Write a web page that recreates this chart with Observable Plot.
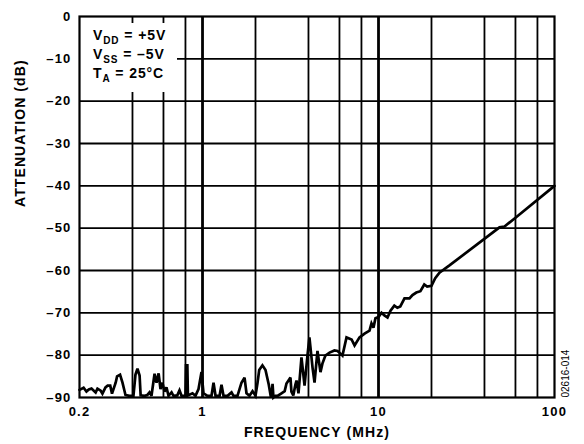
<!DOCTYPE html>
<html><head><meta charset="utf-8">
<script src="https://cdn.jsdelivr.net/npm/d3@7"></script>
<script src="https://cdn.jsdelivr.net/npm/@observablehq/plot@0.6"></script>
<style>
body{margin:0;background:#fff;}
#chart{width:584px;height:444px;position:relative;}
g[aria-label="x-axis tick label"] text, g[aria-label="y-axis tick label"] text{letter-spacing:1.2px;}
</style></head><body><div id="chart"></div>
<script>
const freqMHz = [0.2,0.211,0.219,0.226,0.234,0.247,0.253,0.264,0.270,0.281,0.289,0.299,0.306,0.321,0.327,0.340,0.351,0.365,0.385,0.405,0.416,0.427,0.439,0.445,0.468,0.486,0.500,0.513,0.534,0.548,0.563,0.577,0.592,0.608,0.624,0.641,0.667,0.684,0.719,0.740,0.760,0.800,0.806,0.820,0.826,0.877,0.912,0.949,0.987,1.013,1.067,1.125,1.155,1.186,1.250,1.282,1.316,1.387,1.462,1.500,1.580,1.665,1.733,1.778,1.849,1.924,2.000,2.054,2.100,2.190,2.280,2.380,2.440,2.470,2.500,2.530,2.600,2.668,2.81,2.93,3.00,3.08,3.16,3.20,3.28,3.37,3.42,3.51,3.65,3.80,3.95,4.05,4.22,4.33,4.50,4.68,4.80,4.99,5.27,5.62,5.85,6.00,6.24,6.58,7.03,7.31,7.80,8.33,8.89,9.12,9.36,9.61,10.0,10.4,10.8,11.25,11.7,12.3,12.8,13.3,14.05,15.0,15.6,16.4,17.3,18.2,18.9,20.0,21.0,22.2,25.3,48.7,52.0,59.3,100];
const attenDB = [-88.2,-87.7,-88.6,-88.1,-87.9,-88.8,-87.9,-88.4,-89.1,-87.6,-87.2,-87.2,-89.1,-86.5,-85.0,-84.6,-86.5,-89.4,-89.6,-89.6,-84.6,-83.2,-84.8,-89.5,-89.6,-89.4,-88.8,-89.6,-84.4,-86.5,-84.3,-88.0,-86.5,-88.6,-87.6,-89.6,-88.8,-89.6,-89.5,-88.3,-89.6,-89.6,-82.4,-82.4,-89.5,-89.0,-89.6,-88.0,-84.0,-89.0,-89.6,-89.6,-86.5,-89.6,-89.6,-87.0,-89.6,-89.6,-88.8,-89.6,-89.6,-86.5,-85.3,-89.0,-89.6,-88.5,-89.6,-86.5,-83.5,-82.4,-83.5,-87.0,-89.6,-89.6,-86.8,-90.0,-89.6,-89.6,-89.0,-88.5,-86.7,-86.0,-85.3,-88.6,-89.5,-87.0,-86.0,-89.0,-80.5,-87.2,-80.0,-75.8,-83.0,-86.5,-79.0,-84.0,-82.0,-80.1,-79.4,-78.9,-79.0,-79.4,-80.1,-75.8,-76.3,-77.7,-75.8,-74.9,-74.2,-72.5,-73.5,-71.3,-71.0,-70.0,-70.6,-71.1,-69.5,-68.3,-68.8,-68.5,-66.6,-66.6,-65.8,-65.2,-64.9,-63.3,-63.8,-63.6,-61.8,-60.5,-58.8,-49.8,-49.6,-47.7,-40.0];
const xTickValues = [0.2, 1, 10, 100];
const xGridMinor = [0.4, 0.6, 0.8, 2, 4, 6, 8, 20, 40, 60, 80];
const xGridMajor = [1, 10];
const yTickValues = [0, -10, -20, -30, -40, -50, -60, -70, -80, -90];
const yGrid = [-10, -20, -30, -40, -50, -60, -70, -80];
const xTitle = "FREQUENCY (MHz)";
const yTitle = "ATTENUATION (dB)";
const legendLines = [["V", "DD", " = +5V"], ["V", "SS", " = –5V"], ["T", "A", " = 25°C"]];
const figureId = "02616-014";

const data = freqMHz.map((f, i) => ({f, a: attenDB[i]}));
const font = "'Liberation Sans', Arial, Helvetica, sans-serif";

const legendMark = () => {
  const g = d3.create("svg:g");
  const x0 = 80, y0 = 23;
  g.append("rect").attr("x", x0).attr("y", y0).attr("width", 97).attr("height", 69).attr("fill", "white");
  legendLines.forEach((l, i) => {
    const t = g.append("text").attr("x", x0 + 13).attr("y", y0 + 17 + i * 19)
      .attr("text-anchor", "start")
      .attr("font-family", font).attr("font-weight", "bold").attr("font-size", 14)
      .attr("letter-spacing", "0.9px").attr("fill", "black");
    t.append("tspan").text(l[0]);
    t.append("tspan").attr("font-size", 10).attr("dy", 4).text(l[1]);
    t.append("tspan").attr("dy", -4).text(l[2]);
  });
  return g.node();
};

const chart = Plot.plot({
  width: 584, height: 444,
  marginLeft: 79, marginRight: 30, marginTop: 16, marginBottom: 47,
  x: {type: "log", domain: [0.2, 100]},
  y: {domain: [-90, 0]},
  style: {fontFamily: font, fontWeight: "bold", fontSize: "13px", color: "black", background: "white"},
  marks: [
    Plot.ruleY(yGrid, {stroke: "black", strokeWidth: 1.8}),
    Plot.ruleX(xGridMinor, {stroke: "black", strokeWidth: 1.8}),
    Plot.ruleX(xGridMajor, {stroke: "black", strokeWidth: 2.8}),
    legendMark,
    Plot.frame({stroke: "black", strokeWidth: 2.2}),
    Plot.line(data, {x: "f", y: "a", stroke: "black", strokeWidth: 2.7, strokeLinejoin: "miter", strokeMiterlimit: 3}),
    Plot.axisX(xTickValues, {tickSize: 0, tickPadding: 9, tickFormat: d => String(d), label: null, fontSize: 13}),
    Plot.axisY(yTickValues, {tickSize: 0, tickPadding: 8, tickFormat: d => d === 0 ? "0" : "–" + Math.abs(d), label: null, fontSize: 13}),
    Plot.text([xTitle], {text: d => d, frameAnchor: "bottom", lineAnchor: "top", dy: 30, fontSize: 14, fontWeight: "bold"}),
    Plot.text([yTitle], {text: d => d, frameAnchor: "left", rotate: -90, dx: -59, fontSize: 14, fontWeight: "bold"}),
    Plot.text([figureId], {text: d => d, frameAnchor: "bottom-right", rotate: -90, textAnchor: "start", dx: 14, dy: 0, fontSize: 10, fontWeight: "normal"})
  ]
});
d3.select(chart).selectAll("text").filter(function(){ const t = this.textContent; return t === xTitle || t === yTitle; }).style("letter-spacing", "1.1px");
document.getElementById("chart").appendChild(chart);
</script></body></html>
